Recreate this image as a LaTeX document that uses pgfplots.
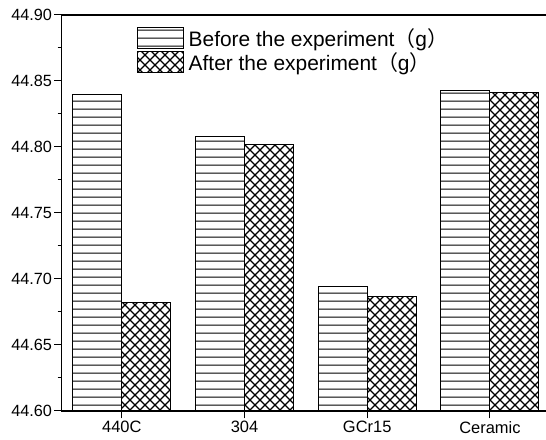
\documentclass[border=0pt]{standalone}
\usepackage{pgfplots}
\pgfplotsset{compat=1.18}
\usetikzlibrary{patterns}
\usepackage{fontspec}
\setmainfont{Liberation Sans}
\newfontfamily\cjk{Noto Sans CJK SC}
\pgfdeclarepatternformonly{myhlines}{\pgfpoint{0bp}{0bp}}{\pgfpoint{8bp}{7.8bp}}{\pgfpoint{8bp}{7.8bp}}{%
  \pgfsetlinewidth{1.1bp}%
  \pgfpathmoveto{\pgfpoint{-1bp}{3.9bp}}%
  \pgfpathlineto{\pgfpoint{9bp}{3.9bp}}%
  \pgfusepath{stroke}}
\pgfdeclarepatternformonly{mycross}{\pgfpoint{-1bp}{-1bp}}{\pgfpoint{11bp}{11bp}}{\pgfpoint{10bp}{10bp}}{%
  \pgfsetlinewidth{1.1bp}%
  \pgfpathmoveto{\pgfpoint{0bp}{0bp}}%
  \pgfpathlineto{\pgfpoint{10bp}{10bp}}%
  \pgfpathmoveto{\pgfpoint{0bp}{10bp}}%
  \pgfpathlineto{\pgfpoint{10bp}{0bp}}%
  \pgfusepath{stroke}}
\begin{document}
\begin{tikzpicture}[x=1bp,y=1bp]
\path[use as bounding box] (0,0) rectangle (546,440);
\begin{axis}[
  at={(61.7bp,29bp)}, anchor=south west,
  scale only axis,
  width=501.8bp, height=396bp,
  xmin=-0.49, xmax=3.6,
  ymin=44.6, ymax=44.9,
  ybar, bar width=0.40,
  xtick={0,1,2,3},
  xticklabels={440C,304,GCr15,Ceramic},
  ytick={44.60,44.65,44.70,44.75,44.80,44.85,44.90},
  minor y tick num=1,
  xtick pos=bottom, ytick pos=left,
  tick align=outside,
  major tick length=7.5bp, minor tick length=4bp,
  tick style={black, line width=1bp},
  axis line style={line width=1.2bp},
  /pgf/number format/assume math mode=true,
  yticklabel style={/pgf/number format/fixed, /pgf/number format/precision=2, /pgf/number format/fixed zerofill, font=\fontsize{16.3}{20}\selectfont, inner sep=2bp},
  xticklabel style={font=\fontsize{16.5}{20}\selectfont, inner sep=2.5bp},
  scaled y ticks=false,
  legend cell align=left,
  legend style={at={(0.150,0.970)}, anchor=north west, draw=none, fill=none,
    inner sep=0pt, row sep=1.5bp, font=\fontsize{21}{24}\selectfont,
    nodes={inner sep=1.5bp}},
  legend image code/.code={\draw[#1] (0bp,-10.5bp) rectangle (46bp,10.5bp);},
]
\addplot[bar shift=-0.2, draw=black, line width=1bp, pattern=myhlines]
  coordinates {(0,44.840) (1,44.808) (2,44.694) (3,44.843)};
\addlegendentry{\hspace{3bp}Before the experiment{\cjk （}g{\cjk ）}}
\addplot[bar shift=0.2, draw=black, line width=1bp, pattern=mycross]
  coordinates {(0,44.682) (1,44.802) (2,44.687) (3,44.841)};
\addlegendentry{\hspace{3bp}After the experiment{\cjk （}g{\cjk ）}}
\end{axis}
\end{tikzpicture}
\end{document}
